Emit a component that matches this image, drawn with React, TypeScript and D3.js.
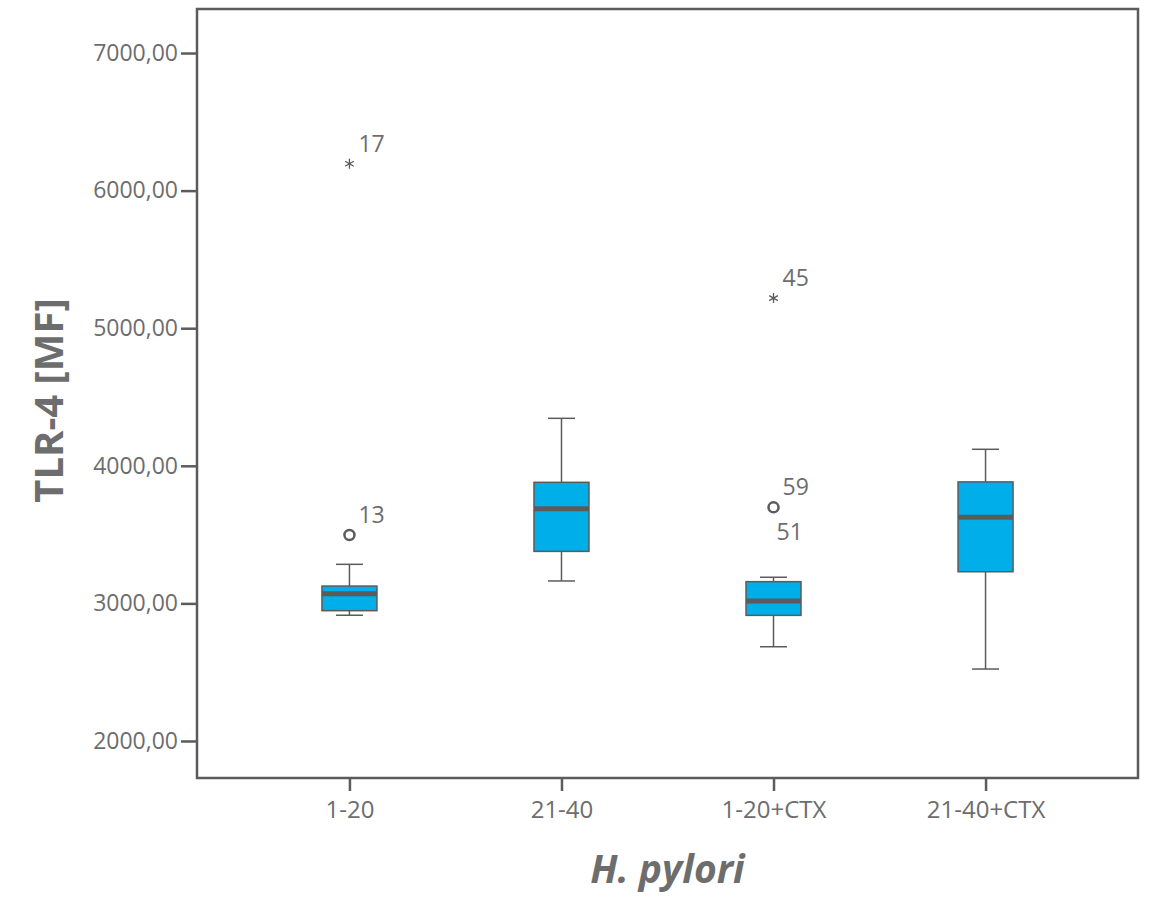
import React from "react";
import * as d3 from "d3";

// group labels on the x axis
const groups = ["1-20", "21-40", "1-20+CTX", "21-40+CTX"];

// five-number summaries
const whiskerLow = [2914, 3163, 2685, 2523];
const quartile1 = [2947, 3378, 2913, 3230];
const medians = [3070, 3688, 3017, 3627];
const quartile3 = [3126, 3880, 3158, 3883];
const whiskerHigh = [3284, 4345, 3190, 4120];

// outliers: group, value, label, kind
const outlierGroup = ["1-20", "1-20", "1-20+CTX", "1-20+CTX"];
const outlierValue = [6195, 3497, 5219, 3698];
const outlierLabel = ["17", "13", "45", "59"];
const outlierKind = ["star", "circle", "star", "circle"];

const yTicks = [2000, 3000, 4000, 5000, 6000, 7000];

const width = 1150;
const height = 897;
const frame = { left: 197, top: 9, right: 1138, bottom: 778 };

const grey = "#5b5b5b";
const textGrey = "#6d6d6d";
const boxFill = "#00aeea";
const font = "'Open Sans', 'Noto Sans', sans-serif";

export default function App() {
  const svgRef = React.useRef<SVGSVGElement>(null);

  React.useEffect(() => {
    const svg = d3.select(svgRef.current);
    svg.selectAll("*").remove();

    const x = d3
      .scalePoint()
      .domain(groups)
      .range([frame.left, frame.right])
      .padding(0.719);

    const y = d3
      .scaleLinear()
      .domain([1731, 7320])
      .range([frame.bottom, frame.top]);

    const boxW = 55;
    const capW = 27;

    /* frame */
    svg
      .append("rect")
      .attr("x", frame.left)
      .attr("y", frame.top)
      .attr("width", frame.right - frame.left)
      .attr("height", frame.bottom - frame.top)
      .attr("fill", "none")
      .attr("stroke", grey)
      .attr("stroke-width", 2.5);

    /* y axis */
    const yAxis = svg
      .append("g")
      .attr("transform", `translate(${frame.left},0)`)
      .call(
        d3
          .axisLeft(y)
          .tickValues(yTicks)
          .tickSize(16)
          .tickPadding(3)
          .tickFormat((d) => d3.format(".2f")(d as number).replace(".", ","))
      );
    yAxis.select(".domain").remove();
    yAxis.selectAll("line").attr("stroke", grey).attr("stroke-width", 2.5);
    yAxis
      .selectAll("text")
      .attr("fill", textGrey)
      .attr("font-family", font)
      .attr("font-size", 23);

    /* x axis */
    const xAxis = svg
      .append("g")
      .attr("transform", `translate(0,${frame.bottom})`)
      .call(d3.axisBottom(x).tickSize(13).tickPadding(10));
    xAxis.select(".domain").remove();
    xAxis.selectAll("line").attr("stroke", grey).attr("stroke-width", 2.5);
    xAxis
      .selectAll("text")
      .attr("fill", textGrey)
      .attr("font-family", font)
      .attr("font-size", 24);

    /* boxes */
    const boxes = svg
      .append("g")
      .selectAll("g")
      .data(groups)
      .enter()
      .append("g")
      .attr("transform", (d) => `translate(${x(d)},0)`);

    boxes
      .append("line")
      .attr("y1", (d, i) => y(whiskerLow[i]))
      .attr("y2", (d, i) => y(whiskerHigh[i]))
      .attr("stroke", grey)
      .attr("stroke-width", 1.5);

    boxes
      .selectAll(".cap")
      .data((d, i) => [whiskerLow[i], whiskerHigh[i]])
      .enter()
      .append("line")
      .attr("class", "cap")
      .attr("x1", -capW / 2)
      .attr("x2", capW / 2)
      .attr("y1", (v) => y(v))
      .attr("y2", (v) => y(v))
      .attr("stroke", grey)
      .attr("stroke-width", 1.5);

    boxes
      .append("rect")
      .attr("x", -boxW / 2)
      .attr("width", boxW)
      .attr("y", (d, i) => y(quartile3[i]))
      .attr("height", (d, i) => y(quartile1[i]) - y(quartile3[i]))
      .attr("fill", boxFill)
      .attr("stroke", grey)
      .attr("stroke-width", 1.5);

    boxes
      .append("line")
      .attr("x1", -boxW / 2)
      .attr("x2", boxW / 2)
      .attr("y1", (d, i) => y(medians[i]))
      .attr("y2", (d, i) => y(medians[i]))
      .attr("stroke", grey)
      .attr("stroke-width", 5);

    /* outliers */
    const outliers = svg
      .append("g")
      .selectAll("g")
      .data(outlierValue)
      .enter()
      .append("g")
      .attr(
        "transform",
        (v, i) => `translate(${x(outlierGroup[i])},${y(v)})`
      );

    outliers
      .filter((v, i) => outlierKind[i] === "circle")
      .append("circle")
      .attr("r", 5)
      .attr("fill", "none")
      .attr("stroke", grey)
      .attr("stroke-width", 2.5);

    outliers
      .filter((v, i) => outlierKind[i] === "star")
      .append("path")
      .attr("d", d3.symbol(d3.symbolAsterisk, 70)())
      .attr("fill", "none")
      .attr("stroke", grey)
      .attr("stroke-width", 1.3);

    outliers
      .append("text")
      .attr("x", 9)
      .attr("y", -12)
      .attr("fill", textGrey)
      .attr("font-family", font)
      .attr("font-size", 23)
      .text((v, i) => outlierLabel[i]);

    // second label for the overlapping outlier in 1-20+CTX
    svg
      .append("text")
      .attr("x", (x("1-20+CTX") as number) + 3)
      .attr("y", y(3698) + 33)
      .attr("fill", textGrey)
      .attr("font-family", font)
      .attr("font-size", 23)
      .text("51");

    /* axis titles */
    svg
      .append("text")
      .attr(
        "transform",
        `translate(63,${(frame.top + frame.bottom) / 2 + 7}) rotate(-90)`
      )
      .attr("text-anchor", "middle")
      .attr("fill", textGrey)
      .attr("font-family", font)
      .attr("font-weight", "bold")
      .attr("font-size", 40)
      .text("TLR-4 [MF]");

    svg
      .append("text")
      .attr("x", (frame.left + frame.right) / 2)
      .attr("y", 883)
      .attr("text-anchor", "middle")
      .attr("fill", textGrey)
      .attr("font-family", font)
      .attr("font-weight", "bold")
      .attr("font-style", "italic")
      .attr("font-size", 39)
      .text("H. pylori");
  }, []);

  return (
    <svg
      ref={svgRef}
      width={width}
      height={height}
      style={{ position: "absolute", left: 0, top: 0, background: "#fff" }}
    />
  );
}
